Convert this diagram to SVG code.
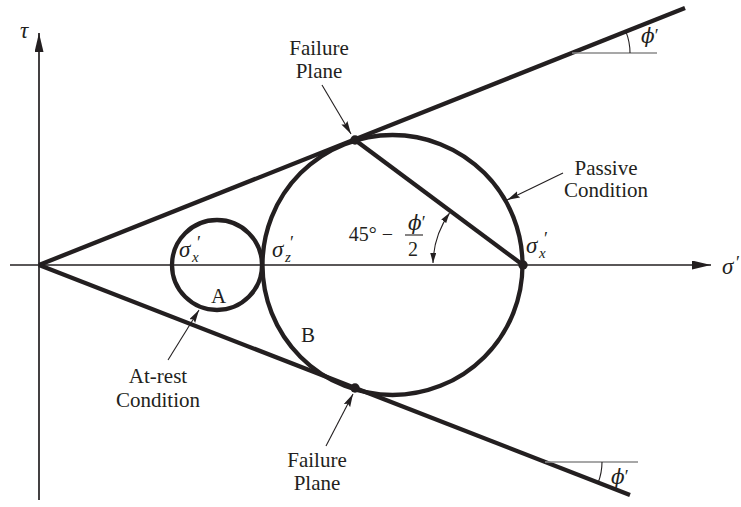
<svg xmlns="http://www.w3.org/2000/svg" width="741" height="507" viewBox="0 0 741 507">
<style>
.thick{stroke:#231f20;stroke-width:4.3;fill:none;stroke-linecap:butt}
.axis{stroke:#231f20;stroke-width:1.7;fill:none}
.thin{stroke:#231f20;stroke-width:1.1;fill:none}
.gray{stroke:#8a8a8a;stroke-width:1.6;fill:none}
.lbl{font-family:"Liberation Serif","Times New Roman",serif;font-size:21px;fill:#231f20}
.m{font-family:"Liberation Serif","Times New Roman",serif;font-style:italic;font-size:23px;fill:#231f20}
.phi{font-family:"DejaVu Serif","Liberation Serif",serif;font-style:italic;font-size:20px;fill:#231f20}
.sub{font-size:15px}
.pr{font-family:"Liberation Serif",serif;font-style:normal;font-size:18px}
.dot{fill:#231f20}
</style>
<defs>
<marker id="axArrow" markerUnits="userSpaceOnUse" markerWidth="20" markerHeight="10" refX="19" refY="4.5" orient="auto"><path d="M0,0 L19,4.5 L0,9 z" fill="#231f20"/></marker>
<marker id="lead" markerUnits="userSpaceOnUse" markerWidth="14" markerHeight="8" refX="13" refY="3.5" orient="auto"><path d="M0,0 L13,3.5 L0,7 L2,3.5 z" fill="#231f20"/></marker>
<marker id="ang" markerUnits="userSpaceOnUse" markerWidth="11" markerHeight="8" refX="10" refY="3" orient="auto-start-reverse"><path d="M0,0 L10,3 L0,6 z" fill="#231f20"/></marker>
</defs>

<g id="axes">
<line class="axis" x1="39" y1="500" x2="39" y2="33" marker-end="url(#axArrow)"/>
<line class="axis" x1="10" y1="265" x2="711" y2="265" marker-end="url(#axArrow)"/>
<text class="m" x="20" y="38">τ</text>
<text class="m" x="722" y="274">σ<tspan class="pr" x="736" y="269">′</tspan></text>
</g>

<g id="circleA">
<circle class="thick" cx="217" cy="265" r="45"/>
<text class="lbl" x="211" y="303">A</text>
<text class="m" x="179" y="257">σ<tspan class="sub" x="192" y="262">x</tspan><tspan class="pr" x="197" y="249">′</tspan></text>
</g>

<g id="circleB">
<circle class="thick" cx="392.5" cy="265" r="130"/>
<text class="lbl" x="301" y="342">B</text>
<text class="m" x="272" y="257">σ<tspan class="sub" x="285" y="262">z</tspan><tspan class="pr" x="290" y="249">′</tspan></text>
<text class="m" x="526" y="253">σ<tspan class="sub" x="539" y="258">x</tspan><tspan class="pr" x="544" y="245">′</tspan></text>
</g>

<g id="envelopes">
<line class="thick" x1="39" y1="265" x2="685" y2="8"/>
<line class="thick" x1="39" y1="265" x2="630" y2="495"/>
<line class="gray" x1="572" y1="53" x2="657" y2="53"/>
<path class="thin" d="M625.9,31.6 A58 58 0 0 1 630,53"/>
<text class="phi" x="641" y="43">ϕ<tspan class="pr" dy="-1">′</tspan></text>
<line class="gray" x1="545" y1="462" x2="638" y2="462"/>
<path class="thin" d="M602,462 A57 57 0 0 1 598.1,482.7"/>
<text class="phi" x="611" y="484">ϕ<tspan class="pr" dy="-1">′</tspan></text>
</g>

<g id="failurePlane">
<line class="thick" x1="355" y1="140" x2="523" y2="265"/>
<circle class="dot" cx="355" cy="140" r="4.7"/>
<circle class="dot" cx="355" cy="388" r="4.7"/>
<circle class="dot" cx="523" cy="265" r="4.7"/>
<path class="thin" d="M433,263 A90 90 0 0 1 449.5,213.1" marker-start="url(#ang)" marker-end="url(#ang)"/>
<text class="lbl" x="393" y="241" text-anchor="end" style="font-size:20px">45° −</text>
<text class="phi" x="408" y="230">ϕ<tspan class="pr" dy="-1">′</tspan></text>
<line x1="405" y1="235" x2="423" y2="235" stroke="#231f20" stroke-width="1.1"/>
<text class="lbl" x="413" y="256" text-anchor="middle" style="font-size:20px">2</text>
</g>

<g id="connectors">
<line class="thin" x1="322" y1="85" x2="351" y2="134" marker-end="url(#lead)"/>
<line class="thin" x1="326" y1="446" x2="353" y2="394" marker-end="url(#lead)"/>
<line class="thin" x1="168" y1="360" x2="199" y2="310" marker-end="url(#lead)"/>
<line class="thin" x1="563" y1="173" x2="507" y2="200" marker-end="url(#lead)"/>
</g>

<g id="labels">
<text class="lbl" text-anchor="middle"><tspan x="319" y="55">Failure</tspan><tspan x="319" y="78">Plane</tspan></text>
<text class="lbl" text-anchor="middle"><tspan x="317" y="467">Failure</tspan><tspan x="317" y="490">Plane</tspan></text>
<text class="lbl" text-anchor="middle"><tspan x="158" y="383">At-rest</tspan><tspan x="158" y="407">Condition</tspan></text>
<text class="lbl" text-anchor="middle"><tspan x="606" y="175">Passive</tspan><tspan x="606" y="197">Condition</tspan></text>
</g>
</svg>
